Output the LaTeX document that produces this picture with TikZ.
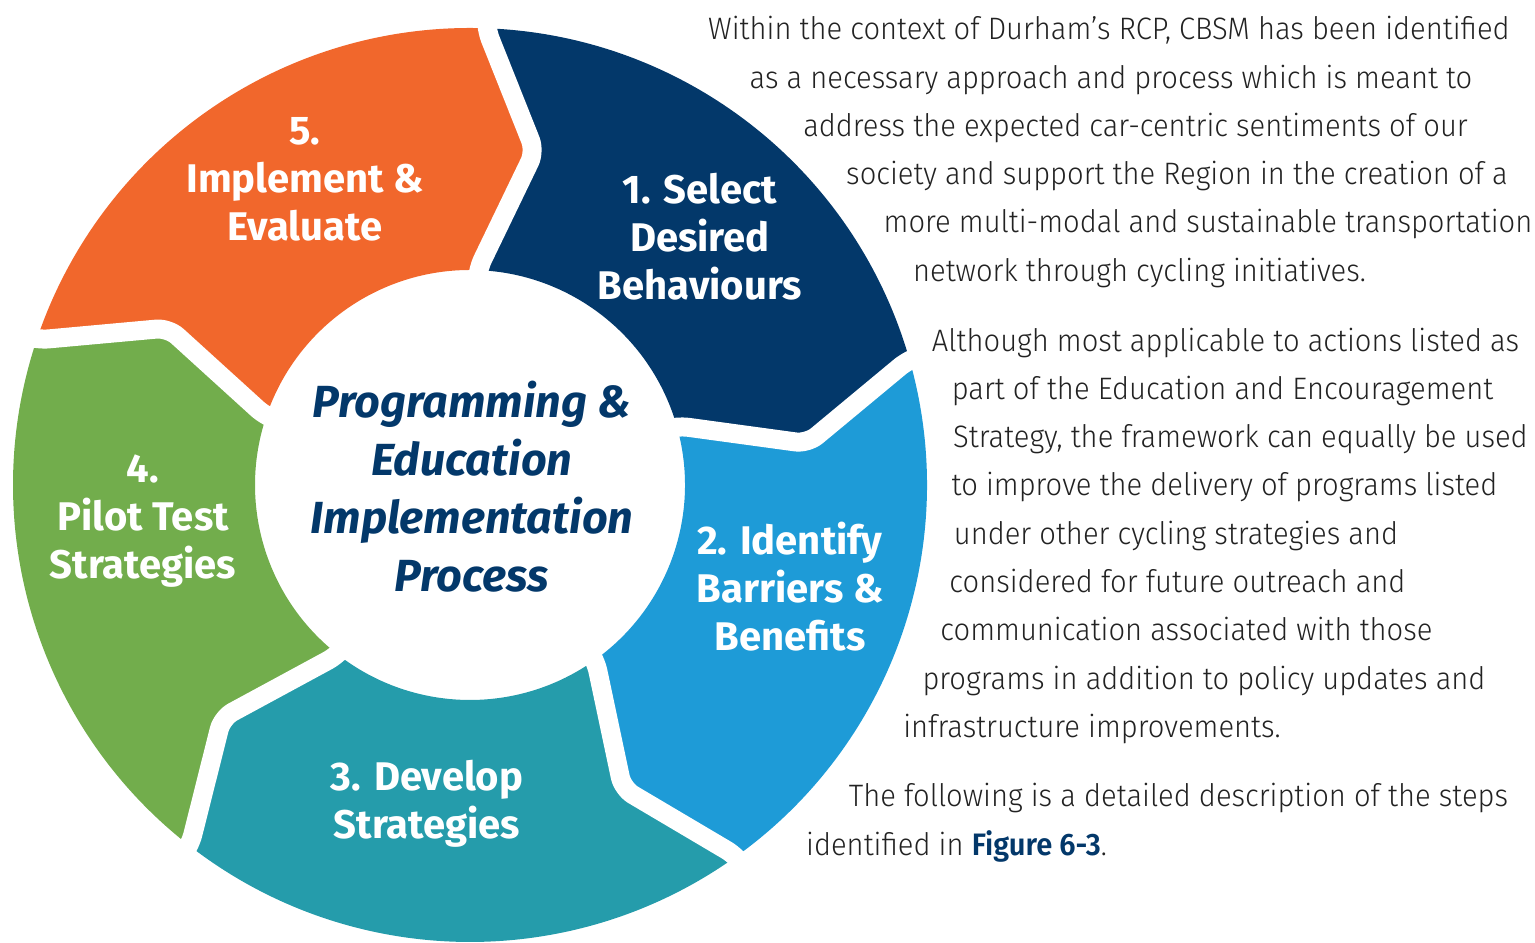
\documentclass[tikz,border=0pt]{standalone}
\usepackage{fontspec}
\setmainfont{Fira Sans}
\newfontfamily\bodyfont{Fira Sans Light}[FakeStretch=0.94]
\newfontfamily\bodybold{Fira Sans SemiBold}[FakeStretch=0.94]
\definecolor{navy}{HTML}{03386A}
\definecolor{lblue}{HTML}{1E9BD7}
\definecolor{teal}{HTML}{259CAB}
\definecolor{lgreen}{HTML}{72AD4C}
\definecolor{orng}{HTML}{F1672C}
\definecolor{bodygray}{HTML}{222222}
\newcommand\ringseg[3]{%
  \pgfmathsetmacro\tipA{#1-9}\pgfmathsetmacro\tipB{#2-9}%
  \fill[#3] (#1:457) arc[start angle=#1,end angle=#2,radius=228.5pt] -- (\tipB:340) -- (#2:215)
    arc[start angle=#2,end angle=#1,radius=107.5pt] -- (\tipA:340) -- cycle;}
\newcommand\ringgap[1]{%
  \pgfmathsetmacro\tipG{#1-9}%
  \draw[gapline] (#1:485) -- (#1:457) -- (\tipG:340) -- (#1:215) -- (#1:195);}
\begin{document}
\begin{tikzpicture}[x=0.5pt,y=0.5pt,
  gapline/.style={draw=white,line width=9.5pt,line join=round,rounded corners=6pt},
  seglabel/.style={text=white,font=\fontsize{20}{24}\selectfont\bfseries,align=center,inner sep=0pt},
  centerlabel/.style={text=navy,font=\fontsize{22.5}{29}\selectfont\bfseries\itshape,align=center,inner sep=0pt},
  bodytext/.style={anchor=base,inner sep=0pt,text=bodygray,font=\bodyfont\fontsize{15.5}{18}\selectfont}]
\useasboundingbox (0,0) rectangle (1535,942);
\begin{scope}[shift={(470,457)}]
  \ringseg{88}{16}{navy}
  \ringseg{16}{-54.3}{lblue}
  \ringseg{-54.3}{-127.8}{teal}
  \ringseg{-127.8}{-198.5}{lgreen}
  \ringseg{-198.5}{-272}{orng}
  \ringgap{88}
  \ringgap{16}
  \ringgap{-54.3}
  \ringgap{-127.8}
  \ringgap{-198.5}
\end{scope}
\node[seglabel] (s1) at (700,705.5) {1. Select\\Desired\\Behaviours};
\node[seglabel] (s2) at (790,355.5) {2. Identify\\Barriers \&\\Benefits};
\node[seglabel] (s3) at (427,138) {3. Develop\\Strategies};
\node[seglabel] (s4) at (143,421) {4.\\Pilot Test\\Strategies};
\node[seglabel] (s5) at (305,763) {5.\\Implement \&\\Evaluate};
\node[centerlabel] (ctr) at (472,455) {Programming \&\\Education\\Implementation\\Process};
\node[bodytext] (p1) at (1109,902) {Within the context of Durham’s RCP, CBSM has been identified};
\node[bodytext] (p2) at (1111,853) {as a necessary approach and process which is meant to};
\node[bodytext] (p3) at (1135.5,805) {address the expected car-centric sentiments of our};
\node[bodytext] (p4) at (1177,757) {society and support the Region in the creation of a};
\node[bodytext] (p5) at (1208,709) {more multi-modal and sustainable transportation};
\node[bodytext] (p6) at (1139.5,660) {network through cycling initiatives.};
\node[bodytext] (q1) at (1225.5,590) {Although most applicable to actions listed as};
\node[bodytext] (q2) at (1222.5,542) {part of the Education and Encouragement};
\node[bodytext] (q3) at (1240.5,494) {Strategy, the framework can equally be used};
\node[bodytext] (q4) at (1224.5,446) {to improve the delivery of programs listed};
\node[bodytext] (q5) at (1176,397) {under other cycling strategies and};
\node[bodytext] (q6) at (1177.5,349) {considered for future outreach and};
\node[bodytext] (q7) at (1186.5,301) {communication associated with those};
\node[bodytext] (q8) at (1204,252) {programs in addition to policy updates and};
\node[bodytext] (q9) at (1092,204) {infrastructure improvements.};
\node[bodytext] (r1) at (1178.5,135) {The following is a detailed description of the steps};
\node[bodytext] (r2) at (956.5,87) {identified in \textcolor{navy}{\bodybold Figure 6-3}.};
\end{tikzpicture}
\end{document}
